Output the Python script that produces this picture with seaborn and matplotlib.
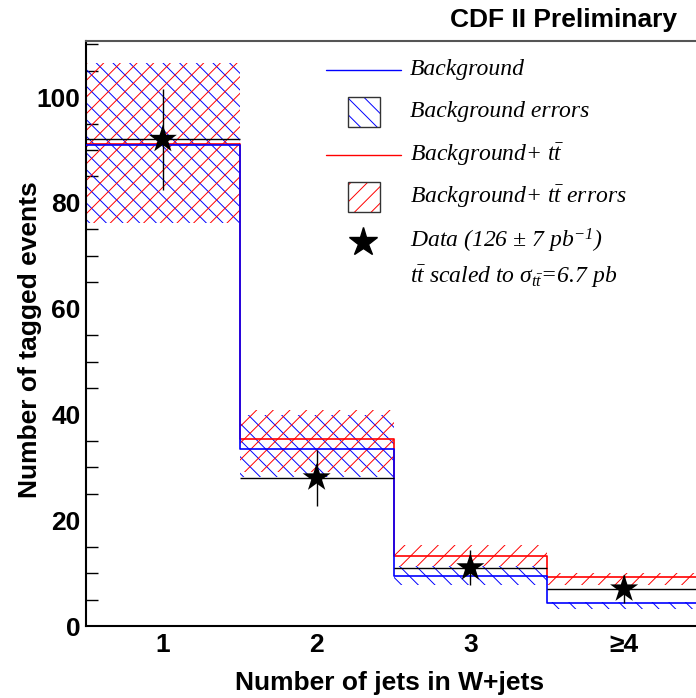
import numpy as np
import pandas as pd
import matplotlib
matplotlib.use("Agg")
import matplotlib.pyplot as plt
from matplotlib.patches import Rectangle
from matplotlib.lines import Line2D
from matplotlib.ticker import MultipleLocator
import seaborn as sns

# ---------------- data ----------------
categories = ["1", "2", "3", "≥4"]
bin_centers = [1, 2, 3, 4]
bin_edges = [0.5, 1.5, 2.5, 3.5, 4.5]

background = [91.0, 33.4, 9.5, 4.4]
background_lo = [76.2, 28.1, 7.75, 3.3]
background_hi = [106.4, 39.9, 11.3, 4.5]

bg_plus_ttbar = [91.1, 35.3, 13.3, 9.2]
bg_plus_ttbar_lo = [76.2, 29.2, 11.3, 7.75]
bg_plus_ttbar_hi = [106.4, 40.8, 15.3, 9.95]

data_counts = [92, 28, 11, 7]
data_err = [9.6, 5.3, 3.3, 2.6]

# ---------------- style ----------------
sns.set_theme(style="white")
plt.rcParams["font.family"] = ["Liberation Sans", "DejaVu Sans"]
plt.rcParams["mathtext.fontset"] = "custom"
plt.rcParams["mathtext.it"] = "Liberation Serif:italic"
plt.rcParams["mathtext.rm"] = "Liberation Serif:italic"
plt.rcParams["mathtext.sf"] = "Liberation Serif:italic"
plt.rcParams["hatch.linewidth"] = 0.7
for k in ["text.color", "axes.labelcolor", "xtick.color", "ytick.color"]:
    plt.rcParams[k] = "black"

W, H = 696, 698
fig = plt.figure(figsize=(W / 100, H / 100), dpi=100)
fig.patch.set_facecolor("white")

def px(x, y):
    return x / W, 1 - y / H

ax_left, ax_right, ax_top, ax_bottom = 86, 701, 41, 626
ax = fig.add_axes([ax_left / W, 1 - ax_bottom / H, (ax_right - ax_left) / W, (ax_bottom - ax_top) / H])
ax.set_facecolor("white")

def step_vals(v):
    return list(v) + [v[-1]]

BLUE_HATCH = "\\\\"
RED_HATCH = "//"

# error bands (hatched)
ax.fill_between(bin_edges, step_vals(background_lo), step_vals(background_hi), step="post",
                facecolor="none", edgecolor="blue", linewidth=0, hatch=BLUE_HATCH, zorder=1)
ax.fill_between(bin_edges, step_vals(bg_plus_ttbar_lo), step_vals(bg_plus_ttbar_hi), step="post",
                facecolor="none", edgecolor="red", linewidth=0, hatch=RED_HATCH, zorder=1)

# histogram lines via seaborn
sns.histplot(x=bin_centers, weights=bg_plus_ttbar, bins=bin_edges, element="step", fill=False,
             color="red", linewidth=1.2, ax=ax, zorder=2)
sns.histplot(x=bin_centers, weights=background, bins=bin_edges, element="step", fill=False,
             color="blue", linewidth=1.2, ax=ax, zorder=3)

# data with errors
ax.errorbar(bin_centers, data_counts, yerr=data_err, xerr=0.5, fmt="none", ecolor="black",
            elinewidth=1.0, capsize=0, zorder=4)
sns.scatterplot(x=bin_centers, y=data_counts, marker="*", s=450, color="black",
                edgecolor="none", ax=ax, zorder=5)

# axes
ax.set_xlim(0.5, 4.5)
ax.set_ylim(0, 110.6)
ax.set_xticks(bin_centers)
ax.set_xticklabels(categories)
ax.yaxis.set_major_locator(MultipleLocator(20))
ax.yaxis.set_minor_locator(MultipleLocator(5))
ax.tick_params(axis="y", which="major", direction="in", length=17, width=1.0, pad=4, labelsize=19, color="black")
ax.tick_params(axis="y", which="minor", direction="in", length=8.5, width=1.0, color="black", left=True)
ax.tick_params(axis="x", which="major", direction="in", length=14.5, width=1.0, pad=5, labelsize=19, color="black")
for lab in ax.get_xticklabels() + ax.get_yticklabels():
    lab.set_fontweight("bold")
for s in ["left", "bottom"]:
    ax.spines[s].set_color("black")
    ax.spines[s].set_linewidth(1.5)
ax.spines["top"].set_color("#555555")
ax.spines["top"].set_linewidth(1.5)
ax.spines["right"].set_visible(False)

ax.set_xlabel("")
ax.set_ylabel("")
fig.text(*px(390, 683), "Number of jets in W+jets", ha="center", va="center",
         fontsize=19, fontweight="bold")
fig.text(*px(30, 340), "Number of tagged events", ha="center", va="center",
         rotation=90, fontsize=19, fontweight="bold")
fig.text(*px(677, 20), "CDF II Preliminary", ha="right", va="center",
         fontsize=19, fontweight="bold")

# legend (drawn manually)
tx = 410
serif = ["Liberation Serif", "DejaVu Serif"]
def ltext(y, s):
    fig.text(*px(tx, y), s, ha="left", va="center", fontsize=17, style="italic", family=serif)

fig.add_artist(Line2D([326 / W, 401 / W], [1 - 70 / H] * 2, color="blue", lw=1.0))
ltext(70, "Background")
fig.add_artist(Rectangle(px(348, 127), 32 / W, 30 / H, facecolor="none", edgecolor="blue",
                         linewidth=0, hatch="\\\\"))
fig.add_artist(Rectangle(px(348, 127), 32 / W, 30 / H, facecolor="none", edgecolor="#333333", linewidth=1.0))
ltext(112, "Background errors")
fig.add_artist(Line2D([326 / W, 401 / W], [1 - 155 / H] * 2, color="red", lw=1.0))
ltext(155, r"Background+ $t\bar{t}$")
fig.add_artist(Rectangle(px(348, 212), 32 / W, 30 / H, facecolor="none", edgecolor="red",
                         linewidth=0, hatch="//"))
fig.add_artist(Rectangle(px(348, 212), 32 / W, 30 / H, facecolor="none", edgecolor="#333333", linewidth=1.0))
ltext(197, r"Background+ $t\bar{t}$ errors")
fig.add_artist(Line2D([363 / W], [1 - 242 / H], marker="*", markersize=21, color="black", lw=0))
ltext(241, r"Data (126 ± 7 pb$^{-1}$)")
ltext(277, r"$t\bar{t}$ scaled to $\sigma_{t\bar{t}}$=6.7 pb")

fig.savefig("out.png", dpi=100, facecolor="white")
